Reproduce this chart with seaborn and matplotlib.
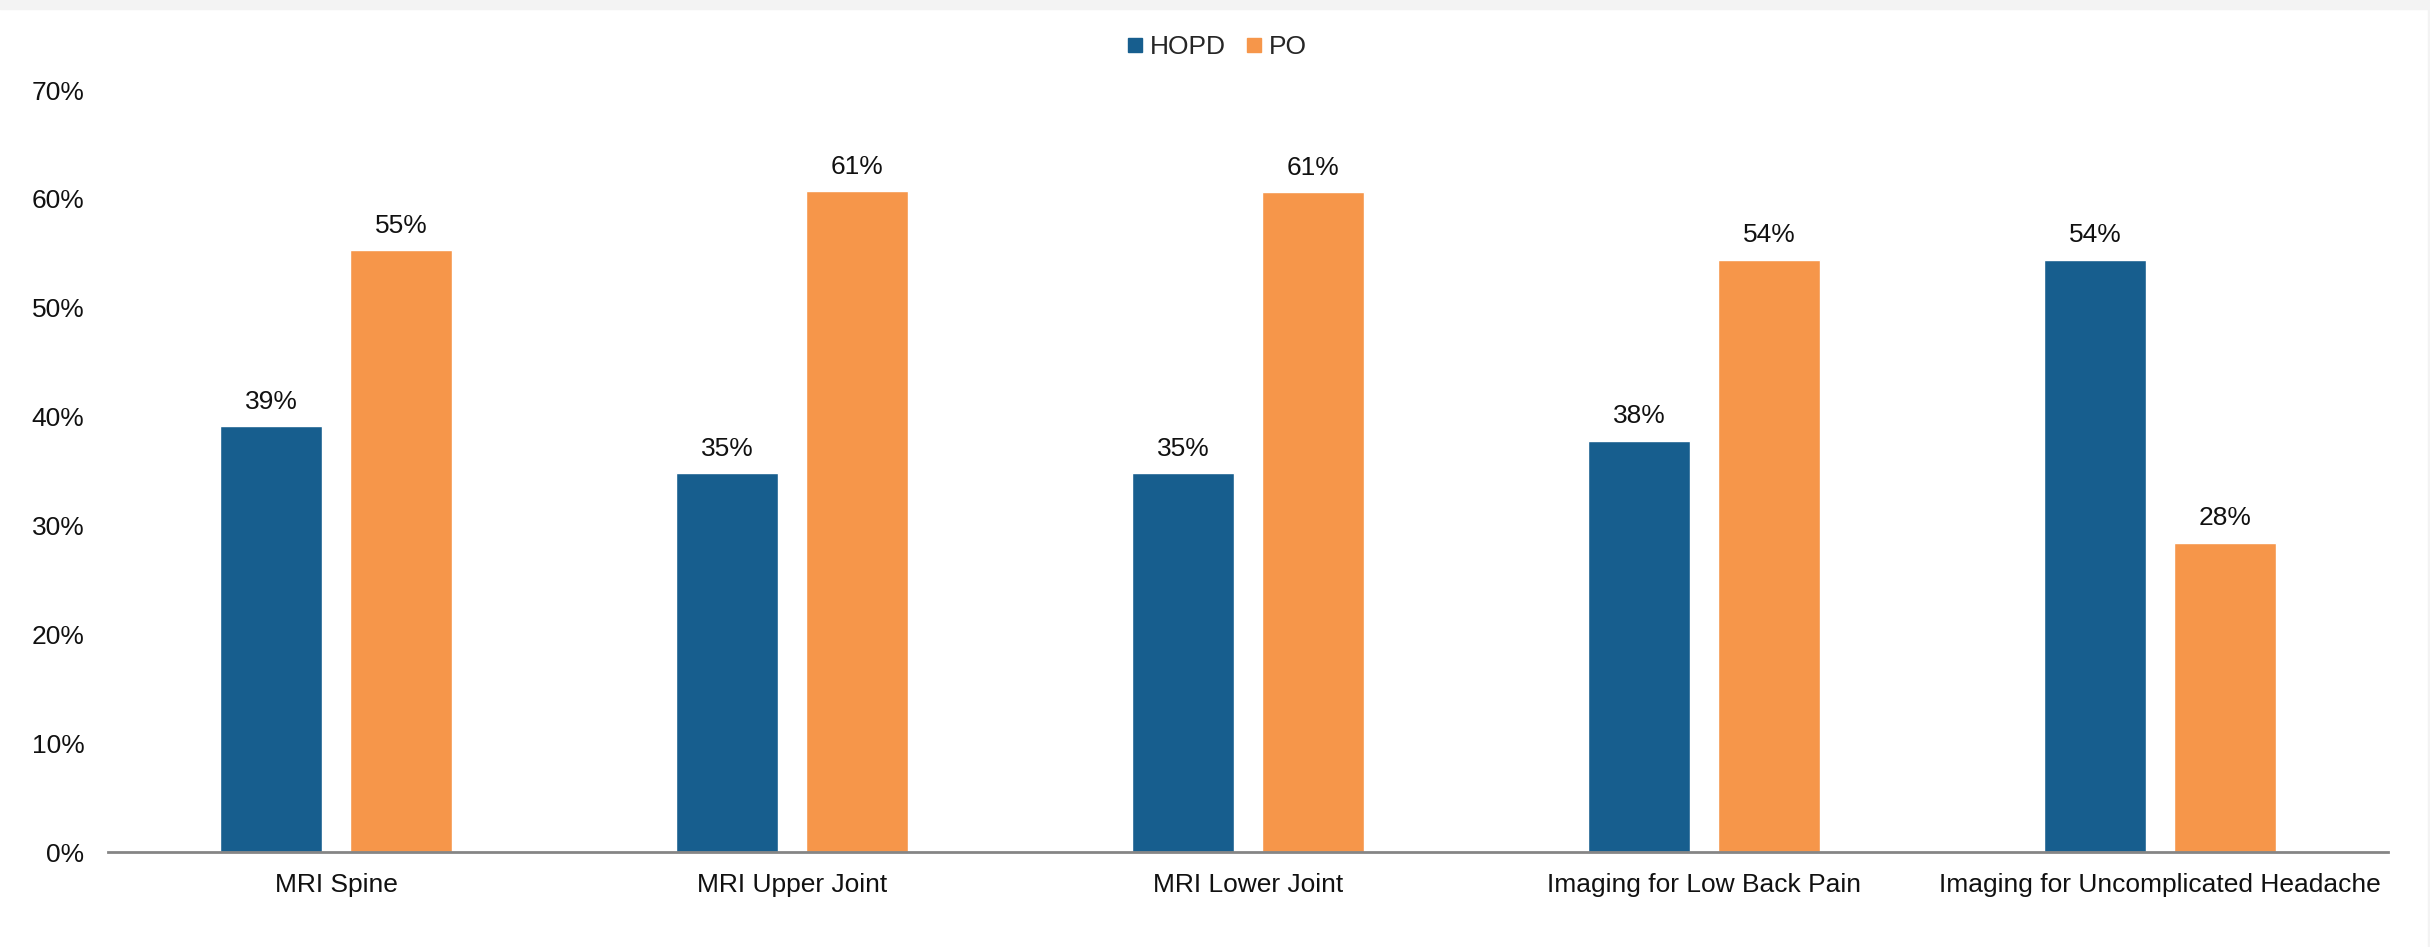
import matplotlib
matplotlib.use("Agg")
import matplotlib.pyplot as plt
from matplotlib.lines import Line2D
from matplotlib.ticker import PercentFormatter
import seaborn as sns
import pandas as pd

categories = ["MRI Spine", "MRI Upper Joint", "MRI Lower Joint",
              "Imaging for Low Back Pain", "Imaging for Uncomplicated Headache"]
hopd = [39.1, 34.8, 34.8, 37.8, 54.4]
po = [55.3, 60.7, 60.6, 54.4, 28.4]
series = ["HOPD", "PO"]
colors = {"HOPD": "#175E8E", "PO": "#F6964A"}

df = pd.DataFrame({
    "category": categories * 2,
    "setting": ["HOPD"] * len(categories) + ["PO"] * len(categories),
    "share": hopd + po,
})

sns.set_theme(style="white")
plt.rcParams["font.family"] = ["Liberation Sans", "DejaVu Sans"]
FS = 19

fig = plt.figure(figsize=(24.3, 9.47), dpi=100)
fig.patches.append(plt.Rectangle((0, 1 - 9 / 947), 1, 9 / 947, transform=fig.transFigure,
                                 color="#F3F3F3", zorder=0))
fig.patches.append(plt.Rectangle((1 - 2 / 2430, 0), 2 / 2430, 1, transform=fig.transFigure,
                                 color="#F3F3F3", zorder=0))

ax = fig.add_axes([108 / 2430, 1 - 852 / 947, 2280 / 2430, (852 - 90) / 947])
sns.barplot(data=df, x="category", y="share", hue="setting", hue_order=series,
            order=categories, palette=colors, width=0.57, gap=0.21,
            saturation=1, ax=ax, legend=False)

for cont in ax.containers:
    ax.bar_label(cont, labels=[f"{v:.0f}%" for v in cont.datavalues],
                 padding=9, fontsize=FS, color="#111111")

ax.set_ylim(0, 70)
ax.set_xlim(-0.5, len(categories) - 0.5)
ax.set_yticks(range(0, 71, 10))
ax.yaxis.set_major_formatter(PercentFormatter(decimals=0))
ax.set_xlabel("")
ax.set_ylabel("")
ax.tick_params(axis="both", length=0, labelsize=FS, labelcolor="#111111")
ax.tick_params(axis="y", pad=17)
ax.tick_params(axis="x", pad=15)

for side in ["top", "right", "left"]:
    ax.spines[side].set_visible(False)
ax.spines["bottom"].set_color("#858585")
ax.spines["bottom"].set_linewidth(2)

handles = [Line2D([], [], marker="s", linestyle="none", markersize=10,
                  markerfacecolor=colors[s], markeredgecolor=colors[s]) for s in series]
fig.legend(handles, series, loc="center", bbox_to_anchor=(1217 / 2430, 1 - 47 / 947),
           ncol=2, frameon=False, fontsize=FS, handlelength=0.6,
           handletextpad=0.25, columnspacing=0.8, borderaxespad=0)

fig.savefig("out.png", dpi=100)
